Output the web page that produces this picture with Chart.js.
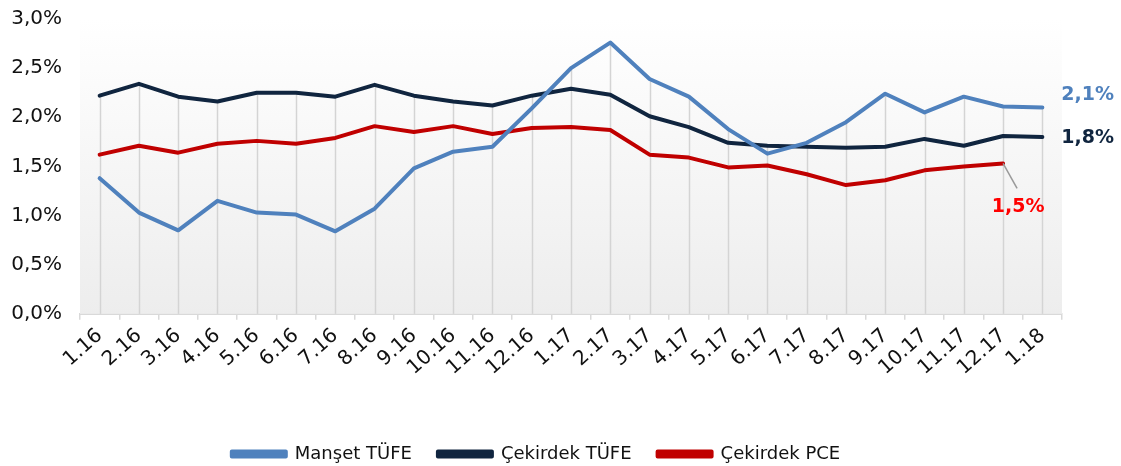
<!DOCTYPE html>
<html>
<head>
<meta charset="utf-8">
<script src="https://cdn.jsdelivr.net/npm/chart.js@4.4.1/dist/chart.umd.min.js"></script>
<style>
  html, body { margin: 0; padding: 0; background: #fff; }
  #wrap { width: 1121px; height: 466px; position: relative; }
</style>
</head>
<body>
<div id="wrap"><canvas id="inflationChart"></canvas></div>
<script>
// Months (m.yy)
const labels = ['1.16', '2.16', '3.16', '4.16', '5.16', '6.16', '7.16', '8.16', '9.16', '10.16', '11.16', '12.16',
                '1.17', '2.17', '3.17', '4.17', '5.17', '6.17', '7.17', '8.17', '9.17', '10.17', '11.17', '12.17', '1.18'];

// Yearly change, %
const mansetTufe = [1.38, 1.03, 0.85, 1.15, 1.03, 1.01, 0.84, 1.07, 1.48, 1.65, 1.70, 2.09,
                    2.50, 2.76, 2.39, 2.21, 1.88, 1.63, 1.74, 1.95, 2.24, 2.05, 2.21, 2.11, 2.10];
const cekirdekTufe = [2.22, 2.34, 2.21, 2.16, 2.25, 2.25, 2.21, 2.33, 2.22, 2.16, 2.12, 2.22,
                      2.29, 2.23, 2.01, 1.90, 1.74, 1.71, 1.70, 1.69, 1.70, 1.78, 1.71, 1.81, 1.80];
const cekirdekPce = [1.62, 1.71, 1.64, 1.73, 1.76, 1.73, 1.79, 1.91, 1.85, 1.91, 1.83, 1.89,
                     1.90, 1.87, 1.62, 1.59, 1.49, 1.51, 1.42, 1.31, 1.36, 1.46, 1.50, 1.53, null];

const yTicks = [0, 0.5, 1.0, 1.5, 2.0, 2.5, 3.0];

const fmt = v => v.toFixed(1).replace('.', ',') + '%';

// plot background: white at top fading to light grey
const bgGradient = {
    id: 'bgGradient',
    beforeDatasetsDraw(chart) {
        const { ctx, chartArea: a } = chart;
        const g = ctx.createLinearGradient(0, a.top, 0, a.bottom);
        g.addColorStop(0, '#ffffff');
        g.addColorStop(1, '#ededed');
        ctx.save();
        ctx.fillStyle = g;
        ctx.fillRect(a.left, a.top, a.right - a.left, a.bottom - a.top);

        // drop lines from the highest series down to the axis
        const x = chart.scales.x, y = chart.scales.y;
        ctx.strokeStyle = '#d4d4d4';
        ctx.lineWidth = 1.5;
        labels.forEach((_, i) => {
            const vals = chart.data.datasets.map(d => d.data[i]).filter(v => v !== null);
            const top = Math.max(...vals);
            const px = Math.round(x.getPixelForValue(i)) + 0.5;
            ctx.beginPath();
            ctx.moveTo(px, y.getPixelForValue(top));
            ctx.lineTo(px, a.bottom);
            ctx.stroke();
        });
        ctx.restore();
    }
};

// last-value labels at the right end of each line
const endLabels = {
    id: 'endLabels',
    afterDatasetsDraw(chart) {
        const { ctx } = chart;
        ctx.save();
        ctx.font = 'bold 19px "DejaVu Sans"';
        ctx.textBaseline = 'middle';
        chart.data.datasets.forEach((ds, di) => {
            const meta = chart.getDatasetMeta(di);
            let last = ds.data.length - 1;
            while (ds.data[last] === null) last--;
            const pt = meta.data[last];
            const txt = fmt(ds.data[last]);
            ctx.fillStyle = ds.endColor;
            if (di === 0) {
                ctx.textAlign = 'left';
                ctx.fillText(txt, pt.x + 19, pt.y - 12);
            } else if (di === 1) {
                ctx.textAlign = 'left';
                ctx.fillText(txt, pt.x + 19, pt.y + 1);
            } else {
                ctx.strokeStyle = '#999999';
                ctx.lineWidth = 1.5;
                ctx.beginPath();
                ctx.moveTo(pt.x, pt.y);
                ctx.lineTo(pt.x + 14, pt.y + 25);
                ctx.stroke();
                ctx.textAlign = 'center';
                ctx.fillText(txt, pt.x + 15, pt.y + 44);
            }
        });
        ctx.restore();
    }
};

const ctx = document.getElementById('inflationChart').getContext('2d');
const inflationChart = new Chart(ctx, {
    type: 'line',
    data: {
        labels: labels,
        datasets: [
            { label: 'Manşet TÜFE', data: mansetTufe, borderColor: '#4f81bd', backgroundColor: '#4f81bd', endColor: '#4f81bd' },
            { label: 'Çekirdek TÜFE', data: cekirdekTufe, borderColor: '#10253f', backgroundColor: '#10253f', endColor: '#10253f' },
            { label: 'Çekirdek PCE', data: cekirdekPce, borderColor: '#c00000', backgroundColor: '#c00000', endColor: '#ff0000' }
        ]
    },
    options: {
        responsive: true,
        maintainAspectRatio: false,
        animation: false,
        layout: { padding: { top: 19, left: 10, right: 59, bottom: -7 } },
        elements: {
            line: { borderWidth: 4, tension: 0, borderCapStyle: 'round', borderJoinStyle: 'round' },
            point: { radius: 0, hoverRadius: 0 }
        },
        plugins: {
            legend: {
                position: 'bottom',
                labels: {
                    boxWidth: 54,
                    boxHeight: 5,
                    padding: 26,
                    color: '#111',
                    font: { family: '"DejaVu Sans"', size: 18 }
                }
            },
            tooltip: { enabled: false }
        },
        scales: {
            y: {
                min: 0,
                max: 3,
                afterBuildTicks: axis => { axis.ticks = yTicks.map(v => ({ value: v })); },
                afterFit: axis => { axis.width = 70; axis.paddingTop = 0; axis.paddingBottom = 0; },
                grid: { display: false, drawTicks: false },
                border: { display: false },
                ticks: {
                    padding: 18,
                    color: '#111',
                    font: { family: '"DejaVu Sans"', size: 20 },
                    callback: v => fmt(v)
                }
            },
            x: {
                offset: true,
                afterFit: axis => { axis.height += 35; axis.paddingLeft = 0; axis.paddingRight = 0; },
                grid: { offset: true, drawOnChartArea: false, color: '#d9d9d9', tickLength: 6, lineWidth: 1.5 },
                border: { color: '#d9d9d9', width: 2 },
                ticks: {
                    autoSkip: false,
                    maxRotation: 42,
                    minRotation: 42,
                    padding: 4,
                    color: '#111',
                    font: { family: '"DejaVu Sans"', size: 20 }
                }
            }
        }
    },
    plugins: [bgGradient, endLabels]
});
</script>
</body>
</html>
